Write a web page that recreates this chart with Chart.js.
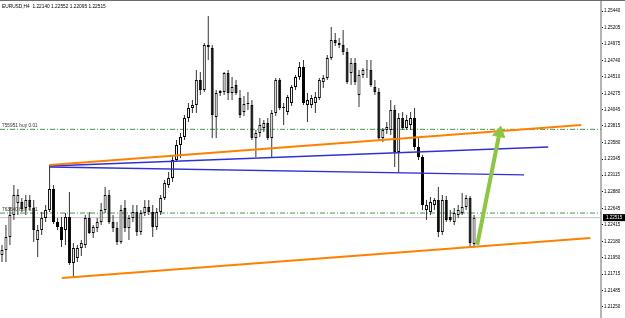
<!DOCTYPE html>
<html>
<head>
<meta charset="utf-8">
<script src="https://cdn.jsdelivr.net/npm/chart.js@4/dist/chart.umd.min.js"></script>
<style>
html,body{margin:0;padding:0;background:#fff;}
canvas{display:block;}
</style>
</head>
<body>
<canvas id="c" width="625" height="318"></canvas>
<script>
// ---- Data (EURUSD H4 candles) ----
const symbolTitle = 'EURUSD,H4  1.22140 1.22552 1.22095 1.22515';
const opens = [1.21987,1.22057,1.22241,1.22553,1.22723,1.22737,1.22652,1.22765,1.22652,1.22199,
1.22340,1.22510,1.22623,1.22921,1.22454,1.22383,1.22340,1.22524,1.21873,1.21944,
1.22086,1.22128,1.22510,1.22298,1.22369,1.22454,1.22623,1.22836,1.22454,1.22369,
1.22171,1.22652,1.22369,1.22510,1.22595,1.22312,1.22581,1.22666,1.22595,1.22383,
1.22595,1.22793,1.22977,1.23076,1.23331,1.23544,1.23657,1.23926,1.24067,1.24110,
1.24464,1.24322,1.24931,1.24917,1.23940,1.24280,1.24294,1.24563,1.24280,1.24393,
1.24209,1.24011,1.24124,1.24110,1.23643,1.23713,1.23784,1.23855,1.23643,1.23997,
1.24464,1.24067,1.24011,1.24138,1.24365,1.24506,1.24648,1.24110,1.24110,1.24138,
1.24209,1.24435,1.24492,1.24775,1.25030,1.24987,1.24959,1.24860,1.24563,1.24704,
1.24251,1.24534,1.24605,1.24605,1.24365,1.24294,1.23643,1.23756,1.23756,1.24039,
1.23444,1.23926,1.23784,1.23827,1.23926,1.23515,1.23374,1.22623,1.22595,1.22694,
1.22765,1.22312,1.22765,1.22524,1.22454,1.22553,1.22581,1.22666,1.22793,1.22140];
const highs = [1.22128,1.22411,1.22666,1.22977,1.22921,1.22793,1.22836,1.22836,1.22765,1.22411,
1.22595,1.22694,1.23260,1.22977,1.22510,1.22524,1.22581,1.22878,1.22156,1.22128,
1.22199,1.22553,1.22595,1.22411,1.22510,1.22723,1.22949,1.22907,1.22553,1.22454,
1.22694,1.22765,1.22553,1.22694,1.22694,1.22623,1.22765,1.22765,1.22694,1.22652,
1.22836,1.23048,1.23161,1.23402,1.23614,1.23713,1.23968,1.24138,1.24181,1.24605,
1.24577,1.24987,1.25370,1.24959,1.24322,1.24322,1.24577,1.24605,1.24506,1.24464,
1.24322,1.24237,1.24294,1.24181,1.23756,1.23926,1.23897,1.23926,1.24039,1.24492,
1.24492,1.24138,1.24251,1.24393,1.24534,1.24718,1.24747,1.24280,1.24251,1.24294,
1.24492,1.24534,1.24818,1.25214,1.25129,1.25058,1.25171,1.24917,1.24775,1.24775,
1.24605,1.24633,1.24747,1.24747,1.24464,1.24350,1.23784,1.23869,1.24181,1.24110,
1.23997,1.24011,1.23968,1.24011,1.24067,1.23643,1.23402,1.22765,1.22808,1.22793,
1.22949,1.22836,1.22822,1.22623,1.22652,1.22694,1.22864,1.22836,1.22822,1.22552];
const lows = [1.21887,1.21887,1.22128,1.22482,1.22553,1.22595,1.22553,1.22623,1.22171,1.21958,
1.22270,1.22454,1.22595,1.22425,1.22340,1.22100,1.22128,1.21845,1.21661,1.21887,
1.21972,1.22086,1.22284,1.22227,1.22312,1.22411,1.22581,1.22425,1.22312,1.22128,
1.22142,1.22312,1.22199,1.22454,1.22255,1.22270,1.22539,1.22553,1.22241,1.22340,
1.22553,1.22765,1.22935,1.23020,1.23303,1.23360,1.23614,1.23869,1.23997,1.23997,
1.24251,1.24294,1.24747,1.23643,1.23643,1.24237,1.24251,1.24181,1.24181,1.24251,
1.23926,1.23954,1.24039,1.23614,1.23374,1.23657,1.23728,1.23614,1.23374,1.23954,
1.24039,1.23827,1.23968,1.24096,1.24322,1.24464,1.24110,1.23869,1.24067,1.23997,
1.24181,1.24350,1.24464,1.24747,1.24945,1.24917,1.24818,1.24407,1.24393,1.24393,
1.24081,1.24492,1.24492,1.24365,1.24251,1.23614,1.23586,1.23699,1.23685,1.23232,
1.23147,1.23756,1.23756,1.23756,1.23473,1.23331,1.22623,1.22482,1.22553,1.22623,
1.22241,1.22270,1.22454,1.22454,1.22411,1.22510,1.22553,1.22623,1.22086,1.22095];
const closes = [1.22057,1.22241,1.22553,1.22836,1.22836,1.22638,1.22765,1.22666,1.22340,1.22340,
1.22510,1.22623,1.22921,1.22454,1.22383,1.22199,1.22524,1.21873,1.22086,1.22086,
1.22156,1.22510,1.22298,1.22383,1.22454,1.22623,1.22836,1.22454,1.22369,1.22171,
1.22623,1.22369,1.22510,1.22595,1.22312,1.22581,1.22666,1.22595,1.22383,1.22595,
1.22793,1.23006,1.23076,1.23331,1.23544,1.23657,1.23926,1.24067,1.24110,1.24464,
1.24322,1.24959,1.24959,1.23968,1.24280,1.24308,1.24563,1.24280,1.24365,1.24280,
1.23968,1.24124,1.24138,1.23643,1.23713,1.23827,1.23855,1.23643,1.23997,1.24464,
1.24067,1.24081,1.24223,1.24365,1.24506,1.24648,1.24138,1.24181,1.24209,1.24223,
1.24464,1.24492,1.24775,1.25030,1.24987,1.24959,1.24860,1.24435,1.24704,1.24435,
1.24534,1.24605,1.24612,1.24393,1.24294,1.23643,1.23756,1.23798,1.24039,1.23444,
1.23926,1.23784,1.23897,1.23926,1.23515,1.23374,1.22694,1.22694,1.22737,1.22765,
1.22312,1.22765,1.22482,1.22482,1.22581,1.22623,1.22666,1.22793,1.22156,1.22515];
const yTickValues = [1.25440,1.25205,1.24975,1.24740,1.24510,1.24275,1.24045,1.23815,1.23580,1.23345,
1.23115,1.22880,1.22645,1.22415,1.22180,1.21950,1.21715,1.21485,1.21250];
// trend lines: [barIndex, price] anchors
const orangeUpperLine = [[12, 1.23260], [146, 1.23827]];
const orangeLowerLine = [[15.1, 1.21661], [148.3, 1.22227]];
const blueUpperLine = [[12, 1.23246], [137.7, 1.23515]];
const blueLowerLine = [[12, 1.23232], [131.6, 1.23119]];
const arrowLine = [[119.8, 1.22128], [125.4, 1.23713]];
const orderLevels = [1.23765, 1.22580];
const orderLabels = ['755951 buy 0.01', '763640 buy 0.01'];
const bidPrice = 1.22515;

const X_MIN = -0.5, X_MAX = 151.0;
const Y_MIN = 1.21094, Y_MAX = 1.25596;
const FONT = '"Liberation Sans", Arial, sans-serif';

const pts = arr => arr.map(p => ({x: p[0], y: p[1]}));
const wickData = lows.map((l, i) => ({x: i, y: [l, highs[i]]}));
const bodyData = opens.map((o, i) => ({x: i, y: [o, closes[i]]}));
const bodyColors = opens.map((o, i) => closes[i] >= o ? '#ffffff' : '#000000');

const datasets = [
  {type:'line', data: pts(arrowLine), borderColor:'#8dc63f', backgroundColor:'#8dc63f', borderWidth:4,
   pointRadius:[0,7], pointStyle:'triangle', rotation:11, pointBackgroundColor:'#8dc63f',
   pointBorderColor:'#8dc63f', pointBorderWidth:1, order:-2},
  {type:'line', data: pts(orangeUpperLine), borderColor:'#ff8000', borderWidth:2, pointRadius:0, order:-1},
  {type:'line', data: pts(orangeLowerLine), borderColor:'#ff8000', borderWidth:2, pointRadius:0, order:-1},
  {type:'line', data: pts(blueUpperLine), borderColor:'#3030d8', borderWidth:1.3, pointRadius:0, order:-1},
  {type:'line', data: pts(blueLowerLine), borderColor:'#3030d8', borderWidth:1.3, pointRadius:0, order:-1},
  {type:'bar', data: bodyData, backgroundColor: bodyColors, borderColor:'#000', borderWidth:1,
   borderSkipped:false, barThickness:3, grouped:false, order:1, inflateAmount:0},
  {type:'bar', data: wickData, backgroundColor:'#333', borderWidth:0, barThickness:1, grouped:false, order:2, inflateAmount:0},
  {type:'line', data: [{x:X_MIN,y:bidPrice},{x:X_MAX,y:bidPrice}], borderColor:'#c4c4c4', borderWidth:1, pointRadius:0, order:3},
  {type:'line', data: [{x:X_MIN,y:orderLevels[0]},{x:X_MAX,y:orderLevels[0]}], borderColor:'#3f9a3f', borderWidth:1,
   borderDash:[5,2,1,2], pointRadius:0, order:3},
  {type:'line', data: [{x:X_MIN,y:orderLevels[1]},{x:X_MAX,y:orderLevels[1]}], borderColor:'#3f9a3f', borderWidth:1,
   borderDash:[5,2,1,2], pointRadius:0, order:3}
];

const overlay = {
  id: 'overlay',
  afterDraw(chart) {
    const ctx = chart.ctx, ys = chart.scales.y, area = chart.chartArea;
    ctx.save();
    ctx.fillStyle = '#6a6a6a';
    ctx.fillRect(0, 0, chart.width, 1);
    ctx.font = '4.8px ' + FONT;
    ctx.fillStyle = '#000';
    ctx.textBaseline = 'middle';
    ctx.textAlign = 'left';
    ctx.fillText(symbolTitle, 2, 7);
    ctx.fillStyle = '#333';
    ctx.textBaseline = 'alphabetic';
    orderLabels.forEach((t, k) => {
      ctx.fillText(t, 2, ys.getPixelForValue(orderLevels[k]) - 2);
    });
    const by = ys.getPixelForValue(bidPrice);
    ctx.fillStyle = '#000';
    ctx.fillRect(area.right + 2, by - 3.5, chart.width - area.right - 2, 7);
    ctx.fillStyle = '#fff';
    ctx.textBaseline = 'middle';
    ctx.font = '4.5px ' + FONT;
    ctx.fillText(bidPrice.toFixed(5), area.right + 5, by);
    ctx.restore();
  }
};

new Chart(document.getElementById('c'), {
  type: 'bar',
  data: { datasets },
  options: {
    responsive: false,
    devicePixelRatio: 1,
    animation: false,
    layout: { padding: 0, autoPadding: false },
    plugins: { legend: {display:false}, tooltip: {enabled:false} },
    scales: {
      x: { type:'linear', display:false, min:X_MIN, max:X_MAX, offset:false },
      y: {
        type:'linear', position:'right', min:Y_MIN, max:Y_MAX,
        afterBuildTicks: s => { s.ticks = yTickValues.map(v => ({value:v})); },
        afterFit: s => { s.width = 24; s.paddingTop = 0; s.paddingBottom = 0; },
        ticks: { font:{size:4.5, family:FONT}, color:'#000', padding:1,
                 callback: v => Number(v).toFixed(5), autoSkip:false },
        grid: { drawOnChartArea:false, drawTicks:true, tickLength:2, color:'#000' },
        border: { display:true, color:'#b4b4b4', width:2 }
      }
    }
  },
  plugins: [overlay]
});
</script>
</body>
</html>
